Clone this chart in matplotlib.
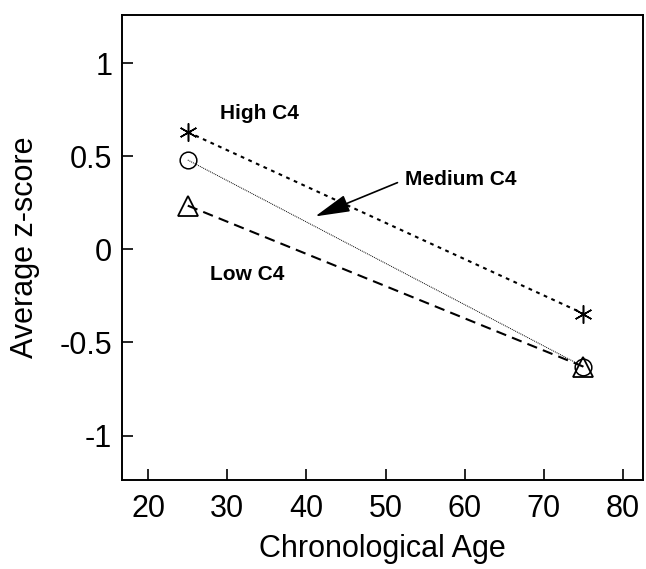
import matplotlib.pyplot as plt

plt.rcParams['font.family'] = ['Liberation Sans', 'DejaVu Sans']

WIDTH, HEIGHT, DPI = 646, 569, 100

# Average z-score by age group for each C4 level
ages = [25, 75]
high_c4 = [0.63, -0.345]
medium_c4 = [0.48, -0.63]
low_c4 = [0.235, -0.63]

xticks = [20, 30, 40, 50, 60, 70, 80]
yticks = [-1, -0.5, 0, 0.5, 1]
ytick_labels = ['-1', '-0.5', '0', '0.5', '1']

fig = plt.figure(figsize=(WIDTH / DPI, HEIGHT / DPI), dpi=DPI, facecolor='white')
ax = fig.add_axes([0.189, 0.156, 0.806, 0.818])

ax.plot(ages, high_c4, color='black', linestyle=(0, (1.8, 2.2)), linewidth=1.5,
        marker=(6, 2, 0), markersize=13, markeredgewidth=1.1)
ax.plot(ages, medium_c4, color='black', linestyle=(0, (1, 1)), linewidth=0.7,
        marker='o', markersize=12, markerfacecolor='none', markeredgewidth=1.1)
ax.plot(ages, low_c4, color='black', linestyle=(0, (5, 3)), linewidth=1.5,
        marker='^', markersize=14, markerfacecolor='none', markeredgewidth=1.3)

ax.text(29.1, 0.73, 'High C4', fontsize=15, fontweight='bold', va='center')
ax.text(27.8, -0.135, 'Low C4', fontsize=15, fontweight='bold', va='center')
ax.annotate('Medium C4', xy=(41.1, 0.177), xytext=(52.5, 0.376),
            fontsize=15, fontweight='bold', va='center',
            arrowprops=dict(arrowstyle='-|>,head_length=1.8,head_width=0.45',
                            mutation_scale=12, color='black', lw=1.2,
                            relpos=(0, 0.5), shrinkA=4, shrinkB=0))

ax.set_xlim(16.7, 82.5)
ax.set_ylim(-1.24, 1.26)
ax.set_xticks(xticks)
ax.set_yticks(yticks)
ax.set_yticklabels(ytick_labels)
ax.tick_params(direction='in', length=8, width=1.2, labelsize=22)
ax.tick_params(axis='x', pad=10)
ax.tick_params(axis='y', pad=7)
ax.set_xlabel('Chronological Age', fontsize=22, labelpad=7)
ax.set_ylabel('Average z-score', fontsize=22, labelpad=14)
for sp in ax.spines.values():
    sp.set_linewidth(1.4)

plt.savefig('out.png', dpi=DPI)
